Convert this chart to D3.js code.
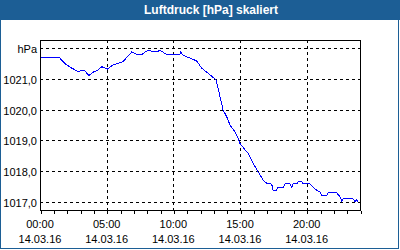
<!DOCTYPE html>
<html><head><meta charset="utf-8">
<script src="https://cdn.jsdelivr.net/npm/d3@7/dist/d3.min.js"></script>
<style>
html,body{margin:0;padding:0;background:#fff;}
svg{display:block;}
text{font-family:"Liberation Sans",Arial,sans-serif;}
</style></head>
<body>
<svg id="c" width="400" height="250"></svg>
<script>
const title = "Luftdruck [hPa] skaliert";
const hourTicks = d3.range(0, 25);
const labelHours = [0, 5, 10, 15, 20];
const timeLabels = ["00:00", "05:00", "10:00", "15:00", "20:00"];
const dateLabel = "14.03.16";
const yTicks = [1017, 1018, 1019, 1020, 1021, 1022];
const unitLabel = "hPa";
const hours = [0,1.45,1.65,1.875,2.4,2.85,3.3,3.67,3.98,4.35,4.63,5.05,5.48,5.93,6.23,6.5,6.88,7.25,7.65,7.875,8.18,8.4,8.85,9.0,9.3,9.53,10.5,10.54,10.73,11.25,11.75,12.13,12.6,12.9,13.2,13.35,13.5,13.73,14.0,14.25,14.63,14.85,15.0,15.38,15.6,15.98,16.35,16.73,17.0,17.38,17.48,17.75,17.85,18.23,18.38,18.75,18.88,18.98,19.28,19.35,19.63,19.73,20.25,20.48,20.75,21.0,21.13,21.5,21.6,22.25,22.5,22.63,22.73,23.48,23.63,23.75,23.85];
const pressure = [1021.7,1021.7,1021.6,1021.5,1021.35,1021.24,1021.29,1021.11,1021.22,1021.29,1021.4,1021.32,1021.46,1021.52,1021.56,1021.7,1021.88,1021.8,1021.8,1021.88,1021.94,1021.9,1021.9,1021.94,1021.85,1021.8,1021.8,1021.88,1021.77,1021.68,1021.59,1021.35,1021.19,1021.08,1020.97,1020.71,1020.42,1019.99,1019.77,1019.5,1019.28,1019.07,1018.9,1018.69,1018.59,1018.25,1017.98,1017.71,1017.6,1017.57,1017.38,1017.38,1017.47,1017.47,1017.58,1017.58,1017.47,1017.58,1017.58,1017.65,1017.65,1017.58,1017.58,1017.47,1017.38,1017.31,1017.2,1017.2,1017.29,1017.29,1017.16,1017.03,1017.09,1017.09,1017.0,1017.06,1017.0];

const svg = d3.select("#c");
const W = 400, H = 250;
const L = 40, R = 360, T = 40, B = 210;
const blue = "#1c5e95";

svg.append("rect").attr("x",0).attr("y",0).attr("width",W).attr("height",H).attr("fill","#fff");
svg.append("rect").attr("x",0.5).attr("y",0.5).attr("width",398).attr("height",248)
  .attr("fill","none").attr("stroke",blue).attr("shape-rendering","crispEdges");
svg.append("rect").attr("x",0).attr("y",0).attr("width",W).attr("height",20).attr("fill",blue);
svg.append("text").attr("x",211).attr("y",14).attr("text-anchor","middle")
  .attr("fill","#fff").attr("font-weight","bold").attr("font-size",12).text(title);

const x = d3.scaleLinear().domain([0,24]).range([L,R]);
const y = d3.scaleLinear().domain([1016.73,1022.27]).range([B,T]);
const loc = d3.formatLocale({decimal:",", thousands:".", grouping:[3], currency:["","€"]});
const fmt = loc.format(".1f");

const g = svg.append("g").attr("shape-rendering","crispEdges");
g.selectAll("line.h").data(yTicks).join("line")
  .attr("x1",L).attr("x2",R).attr("y1",d=>Math.round(y(d))+0.5).attr("y2",d=>Math.round(y(d))+0.5)
  .attr("stroke","#000").attr("stroke-dasharray","3,3");
g.selectAll("line.v").data(labelHours.filter(d=>d>0)).join("line")
  .attr("y1",T).attr("y2",B).attr("x1",d=>Math.round(x(d))+0.5).attr("x2",d=>Math.round(x(d))+0.5)
  .attr("stroke","#000").attr("stroke-dasharray","3,3");

const line = d3.line().x((d,i)=>x(hours[i])).y(d=>y(d)).curve(d3.curveLinear);
svg.append("path").datum(pressure).attr("d",line).attr("fill","none")
  .attr("stroke","#0000ff").attr("stroke-width",1).attr("shape-rendering","crispEdges");

svg.append("rect").attr("x",L+0.5).attr("y",T+0.5).attr("width",R-L).attr("height",B-T)
  .attr("fill","none").attr("stroke","#000").attr("shape-rendering","crispEdges");

const xa = svg.append("g").attr("transform",`translate(0.5,${B+0.5})`)
  .call(d3.axisBottom(x).tickValues(hourTicks).tickSize(3).tickSizeOuter(0).tickFormat(""));
xa.select(".domain").remove();
xa.selectAll("line").attr("shape-rendering","crispEdges");

const xl = svg.append("g").attr("font-size",11).attr("fill","#000").attr("text-anchor","middle");
xl.selectAll("text.t").data(labelHours).join("text")
  .attr("x",d=>x(d)).attr("y",228).text((d,i)=>timeLabels[i]);
xl.selectAll("text.d").data(labelHours).join("text")
  .attr("x",d=>x(d)).attr("y",243).text(dateLabel);

const ya = svg.append("g").attr("transform",`translate(${L},0)`)
  .call(d3.axisLeft(y).tickValues(yTicks).tickSize(0).tickPadding(3)
    .tickFormat(d=>d===1022?unitLabel:fmt(d)));
ya.select(".domain").remove();
ya.selectAll("text").attr("font-size",11).attr("font-family","Liberation Sans, Arial, sans-serif")
  .attr("fill","#000").attr("dy","0.4em");
</script>
</body></html>
